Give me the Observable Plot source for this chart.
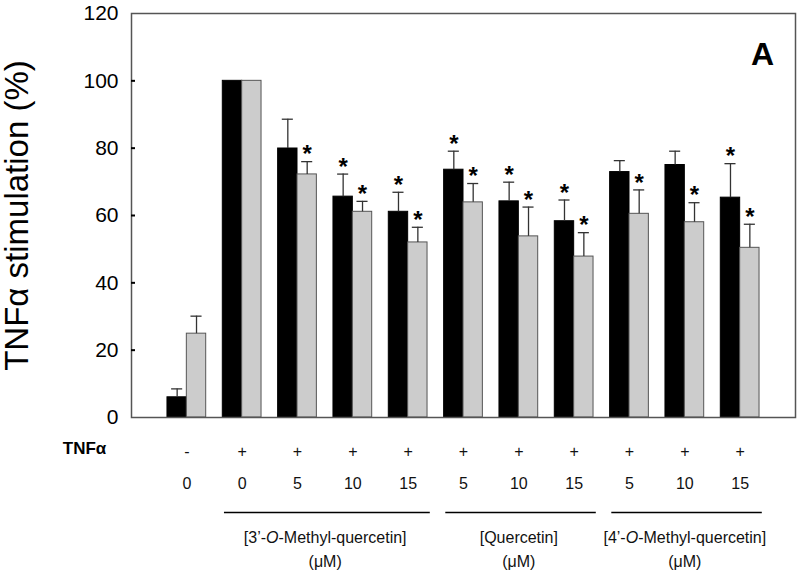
<!DOCTYPE html>
<html>
<head>
<meta charset="utf-8">
<script src="https://cdn.jsdelivr.net/npm/d3@7"></script>
<script src="https://cdn.jsdelivr.net/npm/@observablehq/plot@0.6"></script>
<style>
  html, body { margin: 0; padding: 0; background: #fff; }
  #chart { width: 800px; height: 575px; }
</style>
</head>
<body>
<div id="chart"></div>
<script>
// ---- data ----
const tnfSign   = ["-", "+", "+", "+", "+", "+", "+", "+", "+", "+", "+"];
const conc      = ["0", "0", "5", "10", "15", "5", "10", "15", "5", "10", "15"];
const blackMean  = [6.0, 100, 79.9, 65.6, 61.1, 73.6, 64.2, 58.3, 72.9, 75.0, 65.3];
const blackUpper = [8.5, null, 88.6, 72.3, 66.9, 79.1, 69.9, 64.6, 76.3, 79.1, 75.4];
const grayMean   = [24.9, 100, 72.2, 61.1, 52.0, 63.9, 53.8, 47.8, 60.5, 58.0, 50.4];
const grayUpper  = [30.1, null, 76.0, 64.2, 56.5, 69.5, 62.5, 54.9, 67.6, 63.8, 57.4];
const blackStar  = [false, false, false, true, true, true, true, true, false, false, true];
const grayStar   = [false, false, true, true, true, true, true, true, true, true, true];
const brackets = [
  {label: "[3’-O-Methyl-quercetin]\n(μM)", first: 2, last: 5},
  {label: "[Quercetin]\n(μM)", first: 6, last: 8},
  {label: "[4’-O-Methyl-quercetin]\n(μM)", first: 9, last: 11}
];
const yTicks = [0, 20, 40, 60, 80, 100, 120];
const yTitle = "TNFα stimulation (%)";
const rowLabel = "TNFα";
const panel = "A";

// ---- derived tables ----
const BW = 0.35; // bar width in group units
const rows = [];
tnfSign.forEach((s, i) => {
  rows.push({k: i + 1, series: "black", mean: blackMean[i], upper: blackUpper[i], star: blackStar[i]});
  rows.push({k: i + 1, series: "gray", mean: grayMean[i], upper: grayUpper[i], star: grayStar[i]});
});
const cx = d => d.series === "black" ? d.k - BW / 2 : d.k + BW / 2;
const errRows = rows.filter(d => d.upper != null);
const starRows = rows.filter(d => d.star);
const groupRows = tnfSign.map((s, i) => ({k: i + 1, sign: s, conc: conc[i]}));
const yMid = (yTicks[0] + yTicks[yTicks.length - 1]) / 2;

const FONT = "'Liberation Sans', Arial, Helvetica, sans-serif";
const mid = {textAnchor: "middle", lineAnchor: "middle"};

const chart = Plot.plot({
  width: 800,
  height: 575,
  marginLeft: 131,
  marginRight: 5,
  marginTop: 13,
  marginBottom: 158,
  style: {fontFamily: FONT, background: "#fff", color: "#000", overflow: "visible"},
  x: {domain: [0, 12], axis: null},
  y: {domain: [0, 120], axis: null},
  marks: [
    Plot.rectY(rows, {
      x1: d => d.series === "black" ? d.k - BW : d.k,
      x2: d => d.series === "black" ? d.k : d.k + BW,
      y1: 0,
      y2: "mean",
      fill: d => d.series === "black" ? "#000" : "#cccccc",
      stroke: d => d.series === "black" ? "#000" : "#555",
      strokeWidth: 1
    }),
    Plot.ruleX(errRows, {x: cx, y1: "mean", y2: "upper", stroke: "#333", strokeWidth: 1.3}),
    Plot.ruleY(errRows, {y: "upper", x1: d => cx(d) - 0.1, x2: d => cx(d) + 0.1, stroke: "#333", strokeWidth: 1.3}),
    Plot.text(starRows, {x: cx, y: "upper", text: () => "*", fontSize: 24, fontWeight: "bold", dy: -7, fill: "#000", ...mid}),
    Plot.frame({stroke: "#555", strokeWidth: 1.5}),
    Plot.axisY({ticks: yTicks, tickSize: 0, tickPadding: 13, fontSize: 21, label: null, fill: "#000"}),
    Plot.axisY({ticks: yTicks.slice(1, -1), tickSize: 4, dx: 4, fill: "none", stroke: "#000", strokeWidth: 2, label: null}),
    Plot.text([yTitle], {x: 0, y: yMid, text: d => d, rotate: -90, dx: -113.6, fontSize: 33, fill: "#000", ...mid}),
    Plot.text([panel], {frameAnchor: "top-right", dx: -33, dy: 41, fontSize: 32, fontWeight: "bold", fill: "#000", ...mid}),
    // rows below the frame
    Plot.text([rowLabel], {frameAnchor: "bottom-left", dx: -47, dy: 31.5, fontSize: 17, fontWeight: "bold", fill: "#000", ...mid}),
    Plot.text(groupRows, {x: "k", frameAnchor: "bottom", text: "sign", dy: 34, fontSize: 16, fill: "#111", ...mid}),
    Plot.text(groupRows, {x: "k", frameAnchor: "bottom", text: "conc", dy: 66, fontSize: 16, fill: "#111", ...mid}),
    Plot.ruleY(brackets, {y: 0, x1: d => d.first - 0.32, x2: d => d.last + 0.4, dy: 95, stroke: "#000", strokeWidth: 1.3}),
    Plot.text(brackets, {x: d => (d.first + d.last) / 2, frameAnchor: "bottom", text: "label", lineHeight: 1.5, dy: 129.5, fontSize: 16, fill: "#111", ...mid})
  ]
});

document.getElementById("chart").appendChild(chart);

// italicise the "O" in the O-methyl compound names
d3.select(chart).selectAll("text tspan, text").each(function () {
  const el = d3.select(this);
  if (this.childElementCount > 0) return;
  const t = this.textContent;
  const idx = t.indexOf("’-O-");
  if (idx < 0) return;
  const before = t.slice(0, idx + 2), after = t.slice(idx + 3);
  el.text(null);
  el.append("tspan").text(before);
  el.append("tspan").attr("font-style", "italic").text("O");
  el.append("tspan").text(after);
});
</script>
</body>
</html>
